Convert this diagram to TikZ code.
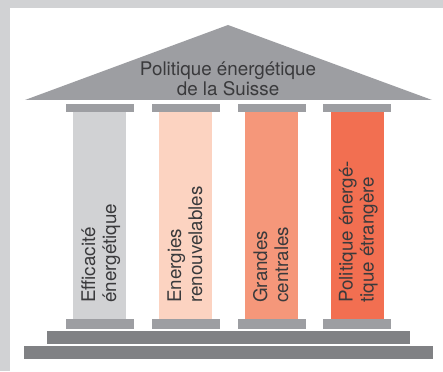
\documentclass[tikz,border=0pt]{standalone}
\usepackage{fontspec}
\setmainfont{TeX Gyre Heros}

\definecolor{framegray}{HTML}{D1D2D4}
\definecolor{roofgray}{HTML}{9D9EA2}
\definecolor{stepgray}{HTML}{808184}
\definecolor{textgray}{HTML}{3A3A3C}
\definecolor{colA}{HTML}{D1D2D4}
\definecolor{colB}{HTML}{FCD3C1}
\definecolor{colC}{HTML}{F5977A}
\definecolor{colD}{HTML}{F26F51}

\tikzset{
  label text/.style={text=textgray, inner sep=0pt,
    font=\fontsize{18.8}{21}\selectfont},
  pillar text/.style={label text, rotate=90, anchor=base west, align=left}
}

\begin{document}
\begin{tikzpicture}[x=1pt, y=-1pt]
  \useasboundingbox (0,0) rectangle (443,371);

  % Frame around the page
  \fill[framegray] (0,0) rectangle (443,371);
  \fill[white] (10,8) rectangle (443,371);

  % Roof
  \fill[roofgray] (25,100) -- (228,25) -- (432,100) -- cycle;
  \node[label text, anchor=base] (roofA) at (228,76) {Politique énergétique};
  \node[label text, anchor=base] (roofB) at (228,96) {de la Suisse};

  % Pillars with their capitals and bases
  \foreach \x/\c/\t [count=\i] in {
      99.5/colA/{Efficacité\\énergétique},
      185.5/colB/{Energies\\renouvelables},
      271.5/colC/{Grandes\\centrales},
      357/colD/{Politique énergé-\\tique étrangère}} {
    \fill[\c] (\x-26.5,112) rectangle (\x+26.5,319);
    \fill[roofgray] (\x-34,104) rectangle (\x+34,112);
    \fill[roofgray] (\x-34,319) rectangle (\x+34,329);
    % last line's baseline sits right of the centre
    \node[pillar text] (pillar\i) at (\x+16.5,303) {\t};
  }

  % Steps
  \fill[stepgray] (47,331) rectangle (410,344);
  \fill[stepgray] (24,346) rectangle (433,359);
\end{tikzpicture}
\end{document}
